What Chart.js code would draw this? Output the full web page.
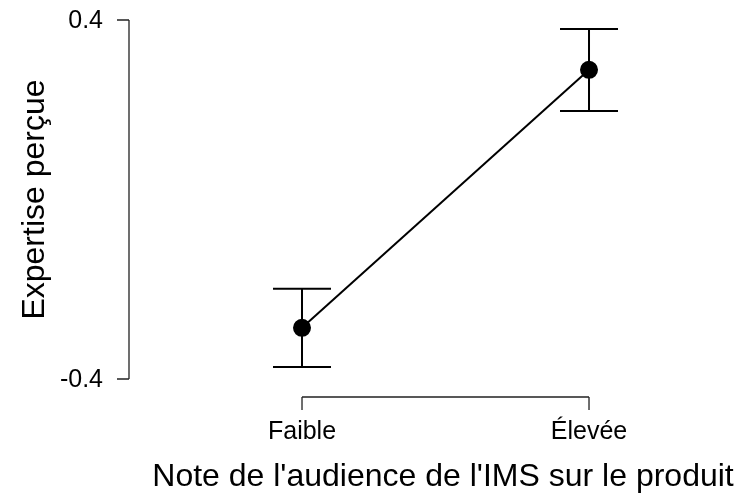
<!DOCTYPE html>
<html>
<head>
<meta charset="utf-8">
<script src="https://cdn.jsdelivr.net/npm/chart.js@4/dist/chart.umd.min.js"></script>
<style>
  body { margin: 0; background: #fff; }
  #wrap { width: 740px; height: 500px; }
</style>
</head>
<body>
<div id="wrap"><canvas id="myChart" width="740" height="500"></canvas></div>
<script>
// Donnees
const categories = ['Faible', 'Élevée'];
const means = [-0.286, 0.289];
const lower = [-0.373, 0.197];
const upper = [-0.199, 0.380];
const yTicks = [-0.4, 0.4];
const yTickLabels = ['-0.4', '0.4'];

const xTitle = "Note de l'audience de l'IMS sur le produit";
const yTitle = 'Expertise perçue';

const font = '"Liberation Sans", Arial, sans-serif';

// error bars + axes style R
const rAxes = {
    id: 'rAxes',
    beforeDatasetsDraw(chart) {
        const ctx = chart.ctx;
        const x = chart.scales.x, y = chart.scales.y;
        ctx.save();
        ctx.strokeStyle = '#000';
        ctx.lineWidth = 2;
        categories.forEach((c, i) => {
            const px = x.getPixelForValue(i + 1);
            const top = y.getPixelForValue(upper[i]);
            const bot = y.getPixelForValue(lower[i]);
            ctx.beginPath();
            ctx.moveTo(px, top); ctx.lineTo(px, bot);
            ctx.moveTo(px - 29, top); ctx.lineTo(px + 29, top);
            ctx.moveTo(px - 29, bot); ctx.lineTo(px + 29, bot);
            ctx.stroke();
        });
        ctx.restore();
    },
    afterDraw(chart) {
        const ctx = chart.ctx;
        const area = chart.chartArea;
        const x = chart.scales.x, y = chart.scales.y;
        ctx.save();
        ctx.strokeStyle = '#222';
        ctx.fillStyle = '#000';
        ctx.lineWidth = 1.3;

        // axe y
        const ax = area.left;
        const y0 = y.getPixelForValue(yTicks[0]);
        const y1 = y.getPixelForValue(yTicks[yTicks.length - 1]);
        ctx.beginPath();
        ctx.moveTo(ax, y0); ctx.lineTo(ax, y1);
        yTicks.forEach(v => {
            const py = y.getPixelForValue(v);
            ctx.moveTo(ax - 12, py); ctx.lineTo(ax, py);
        });
        ctx.stroke();
        ctx.font = '25px ' + font;
        ctx.textAlign = 'right';
        ctx.textBaseline = 'middle';
        yTicks.forEach((v, i) => {
            ctx.fillText(yTickLabels[i], ax - 26, y.getPixelForValue(v) + 1);
        });

        // axe x
        const ay = area.bottom + 18;
        const x0 = x.getPixelForValue(1);
        const x1 = x.getPixelForValue(categories.length);
        ctx.beginPath();
        ctx.moveTo(x0, ay); ctx.lineTo(x1, ay);
        categories.forEach((c, i) => {
            const px = x.getPixelForValue(i + 1);
            ctx.moveTo(px, ay); ctx.lineTo(px, ay + 13);
        });
        ctx.stroke();
        ctx.textAlign = 'center';
        categories.forEach((c, i) => {
            ctx.fillText(c, x.getPixelForValue(i + 1), ay + 35);
        });

        // titres
        ctx.font = '32px ' + font;
        ctx.fillText(xTitle, 443, ay + 80);
        ctx.translate(35, (y0 + y1) / 2);
        ctx.rotate(-Math.PI / 2);
        ctx.fillText(yTitle, 0, 0);
        ctx.restore();
    }
};

window.onload = function() {
    const ctx = document.getElementById('myChart').getContext('2d');
    new Chart(ctx, {
        type: 'line',
        data: {
            datasets: [{
                data: means.map((m, i) => ({ x: i + 1, y: m })),
                borderColor: '#000',
                backgroundColor: '#000',
                borderWidth: 2,
                pointRadius: 8,
                pointHoverRadius: 8,
                pointBackgroundColor: '#000',
                clip: false
            }]
        },
        options: {
            responsive: false,
            animation: false,
            layout: { padding: { left: 129, top: 20, right: 20, bottom: 121 } },
            plugins: { legend: { display: false }, tooltip: { enabled: false } },
            scales: {
                x: { type: 'linear', min: 0.3972, max: 2.4564, display: false },
                y: { type: 'linear', min: -0.4, max: 0.4, display: false }
            }
        },
        plugins: [rAxes]
    });
};
</script>
</body>
</html>
